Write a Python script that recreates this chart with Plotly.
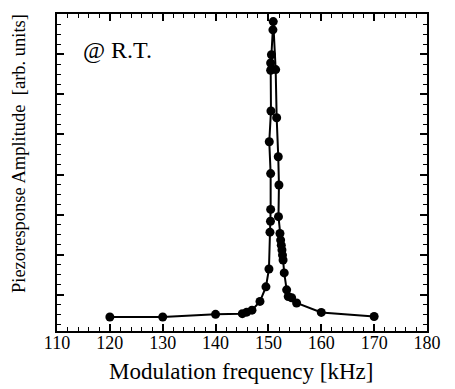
import plotly.graph_objects as go

# Modulation frequency [kHz]
freq = [120, 130, 140, 145.06, 145.89, 146.89, 148.40, 149.53, 150.10, 150.29,
        150.39, 150.42, 150.42, 150.16, 150.48, 150.42, 150.42, 150.57, 150.85,
        150.91, 151.37, 151.56, 151.86, 151.99, 151.90, 152.18, 152.31, 152.43,
        152.56, 152.66, 152.77, 152.99, 153.45, 153.75, 154.39, 155.33, 160, 170]
# Piezoresponse amplitude [arb. units]
amp = [1.80, 1.80, 2.06, 2.13, 2.28, 2.48, 3.35, 4.80, 6.58, 10.25,
       11.34, 12.52, 16.09, 19.26, 22.33, 26.39, 27.11, 27.94, 30.42,
       31.24, 26.46, 21.66, 17.77, 14.95, 11.80, 10.12, 9.46, 8.96,
       8.47, 7.97, 7.48, 6.19, 4.50, 3.84, 3.71, 3.19, 2.25, 1.85]

x_ticks = [110, 120, 130, 140, 150, 160, 170, 180]

FONT = "Liberation Serif"

fig = go.Figure()
fig.add_trace(go.Scatter(
    x=freq, y=amp, mode="lines+markers",
    line=dict(color="black", width=2),
    marker=dict(color="black", size=9),
    showlegend=False, cliponaxis=False,
))

# page body has an 8px margin: figure shrunk by 8px, left/top margins shifted
fig.update_layout(
    width=447, height=381,
    margin=dict(l=49, r=28, t=4, b=58),
    paper_bgcolor="white", plot_bgcolor="white",
    font=dict(family=FONT, color="black", size=18),
    xaxis=dict(
        range=[110, 180], tickvals=x_ticks, ticktext=[str(v) for v in x_ticks],
        ticks="inside", ticklen=7, tickwidth=1.5, tickcolor="black",
        showline=True, linecolor="black", linewidth=2, mirror="ticks",
        showgrid=False, zeroline=False, ticklabelstandoff=-6,
        tickfont=dict(family=FONT, size=18),
        minor=dict(dtick=2, tick0=110, ticks="inside", ticklen=4, tickwidth=1.2,
                   tickcolor="black", showgrid=False),
    ),
    yaxis=dict(
        range=[0.4, 32], tick0=0, dtick=4,
        ticks="inside", ticklen=7, tickwidth=1.5, tickcolor="black",
        showline=True, linecolor="black", linewidth=2, mirror="ticks",
        showgrid=False, zeroline=False, showticklabels=False,
        minor=dict(dtick=1, tick0=0, ticks="inside", ticklen=4, tickwidth=1.2,
                   tickcolor="black", showgrid=False),
    ),
    annotations=[
        dict(text="@ R.T.", xref="paper", yref="paper", x=0.066, y=0.887,
             xanchor="left", yanchor="middle", showarrow=False,
             font=dict(family=FONT, size=24)),
        dict(text="Modulation frequency [kHz]", xref="paper", yref="paper",
             x=0.497, y=-0.1285, xanchor="center", yanchor="middle",
             showarrow=False, font=dict(family=FONT, size=23)),
        dict(text="Piezoresponse Amplitude\u00a0\u00a0[arb. units]",
             xref="paper", yref="paper", x=-0.103, y=0.561,
             xanchor="center", yanchor="middle", textangle=-90,
             showarrow=False, font=dict(family=FONT, size=18.5)),
    ],
)

fig.write_html("out.html")
